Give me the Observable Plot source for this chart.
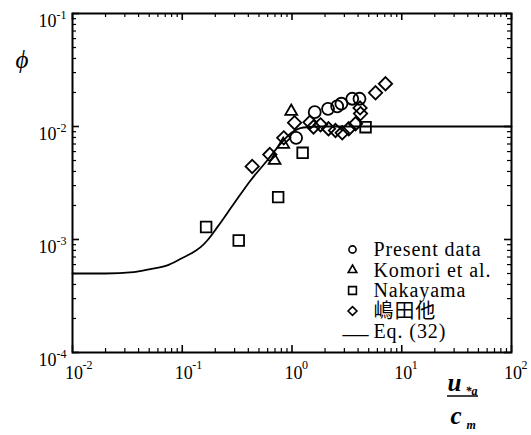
<!DOCTYPE html>
<html>
<head>
<meta charset="utf-8">
<script src="https://cdn.jsdelivr.net/npm/d3@7"></script>
<script src="https://cdn.jsdelivr.net/npm/@observablehq/plot@0.6"></script>
<style>
  html, body { margin: 0; padding: 0; background: #fff; }
  #chart svg { display: block; }
  #chart svg .leg text { letter-spacing: 0.9px; }
</style>
</head>
<body>
<div id="chart"></div>
<script>
// ---- data ----
const presentX = [1.09, 1.61, 2.13, 2.58, 2.82, 3.54, 4.12];
const presentY = [0.00794, 0.0134, 0.01435, 0.0151, 0.0159, 0.0176, 0.0176];

const komoriX = [0.694, 0.832, 0.984];
const komoriY = [0.0050, 0.00693, 0.0136];

const nakayamaX = [0.165, 0.327, 0.748, 1.25, 4.68];
const nakayamaY = [0.00129, 0.00098, 0.00237, 0.00585, 0.00986];

const shimadaX = [0.434, 0.628, 0.841, 1.055, 1.46, 1.57, 1.82, 2.15, 2.49, 2.87, 3.29, 3.79, 4.21, 4.17, 5.77, 7.11];
const shimadaY = [0.00443, 0.00565, 0.00794, 0.0108, 0.0109, 0.0099, 0.01035, 0.00955, 0.00922, 0.0088, 0.00955, 0.01057, 0.0130, 0.0146, 0.01987, 0.0239];

const eqX = [0.01, 0.02, 0.036, 0.05, 0.073, 0.1, 0.119, 0.147, 0.169, 0.208, 0.295, 0.419, 0.594, 0.785, 0.969, 1.27, 1.83, 10, 100];
const eqY = [0.0005, 0.0005, 0.000514, 0.000545, 0.00059, 0.000686, 0.000747, 0.000855, 0.00098, 0.00128, 0.00207, 0.00333, 0.0050, 0.00703, 0.00867, 0.0098, 0.0100, 0.0100, 0.0100];

const legendLabels = ["Present data", "Komori et al.", "Nakayama", "嶋田他", "Eq. (32)"];
const legendSymbols = ["circle", "triangle", "square", "diamond2", "line"];

// tick labels
const xTicks = [1e-2, 1e-1, 1e0, 1e1, 1e2];
const xTickExp = ["-2", "-1", "0", "1", "2"];
const yTicks = [1e-4, 1e-3, 1e-2, 1e-1];
const yTickExp = ["-4", "-3", "-2", "-1"];
const tickBase = "10";

// ---- build ----
const zip = (xs, ys) => xs.map((x, i) => ({x, y: ys[i]}));
const minor = (decades) => decades.slice(0, -1).flatMap(d => [2,3,4,5,6,7,8,9].map(k => d * k));
const xMinor = minor(xTicks);
const yMinor = minor(yTicks);

const W = 531, H = 435, mL = 72, mR = 20, mT = 13, mB = 83;
const pw = W - mL - mR, ph = H - mT - mB;
const serif = "'Liberation Serif', 'Times New Roman', 'Noto Sans CJK JP', serif";

const dotStyle = {stroke: "black", fill: "none", strokeWidth: 1.8};
const T = (extra) => ({fontFamily: serif, ...extra});

const marks = [
  Plot.frame({stroke: "black", strokeWidth: 2}),
  // minor & major ticks (inward) on all four sides
  Plot.tickX(xMinor, {x: d => d, insetTop: ph - 4, strokeWidth: 1.2}),
  Plot.tickX(xMinor, {x: d => d, insetBottom: ph - 4, strokeWidth: 1.2}),
  Plot.tickX(xTicks, {x: d => d, insetTop: ph - 7, strokeWidth: 1.6}),
  Plot.tickX(xTicks, {x: d => d, insetBottom: ph - 7, strokeWidth: 1.6}),
  Plot.tickY(yMinor, {y: d => d, insetRight: pw - 4, strokeWidth: 1.2}),
  Plot.tickY(yMinor, {y: d => d, insetLeft: pw - 4, strokeWidth: 1.2}),
  Plot.tickY(yTicks, {y: d => d, insetRight: pw - 7, strokeWidth: 1.6}),
  Plot.tickY(yTicks, {y: d => d, insetLeft: pw - 7, strokeWidth: 1.6}),
  // tick labels
  Plot.text(xTicks, T({x: d => d, frameAnchor: "bottom", text: () => tickBase, textAnchor: "middle", lineAnchor: "bottom", dx: 1.5, dy: 26, fontSize: 18})),
  Plot.text(xTicks, T({x: d => d, frameAnchor: "bottom", text: (d, i) => xTickExp[i], textAnchor: "start", lineAnchor: "bottom", dx: 10, dy: 16, fontSize: 12})),
  Plot.text(yTicks, T({y: d => d, frameAnchor: "left", text: () => tickBase, textAnchor: "end", lineAnchor: "bottom", dx: -16, dy: 13, fontSize: 18})),
  Plot.text(yTicks, T({y: d => d, frameAnchor: "left", text: (d, i) => yTickExp[i], textAnchor: "start", lineAnchor: "bottom", dx: -16, dy: 5, fontSize: 12})),
  // axis titles
  Plot.text(["ϕ"], T({frameAnchor: "top-left", text: d => d, textAnchor: "middle", lineAnchor: "bottom", dx: 21.5 - mL, dy: 67 - mT, fontSize: 25, fontStyle: "italic"})),
  Plot.text(["u"], T({frameAnchor: "bottom-right", text: d => d, textAnchor: "start", lineAnchor: "bottom", dx: 447 - (W - mR), dy: 390 - (H - mB), fontSize: 25, fontStyle: "italic", fontWeight: "bold"})),
  Plot.text(["*a"], T({frameAnchor: "bottom-right", text: d => d, textAnchor: "start", lineAnchor: "bottom", dx: 465 - (W - mR), dy: 394 - (H - mB), fontSize: 12, fontStyle: "italic", fontWeight: "bold"})),
  Plot.text(["c"], T({frameAnchor: "bottom-right", text: d => d, textAnchor: "start", lineAnchor: "bottom", dx: 450 - (W - mR), dy: 423 - (H - mB), fontSize: 25, fontStyle: "italic", fontWeight: "bold"})),
  Plot.text(["m"], T({frameAnchor: "bottom-right", text: d => d, textAnchor: "start", lineAnchor: "bottom", dx: 466 - (W - mR), dy: 428 - (H - mB), fontSize: 12, fontStyle: "italic", fontWeight: "bold"})),
  // Eq. (32) curve
  Plot.line(zip(eqX, eqY), {x: "x", y: "y", curve: "monotone-x", stroke: "black", strokeWidth: 1.8}),
  // data
  Plot.dot(zip(presentX, presentY), {x: "x", y: "y", symbol: "circle", r: 6, ...dotStyle}),
  Plot.dot(zip(komoriX, komoriY), {x: "x", y: "y", symbol: "triangle", r: 4.4, ...dotStyle}),
  Plot.dot(zip(nakayamaX, nakayamaY), {x: "x", y: "y", symbol: "square", r: 6, ...dotStyle}),
  Plot.dot(zip(shimadaX, shimadaY), {x: "x", y: "y", symbol: "diamond2", r: 6, ...dotStyle}),
];

// legend
const legR = {circle: 3.6, triangle: 3.2, square: 4.4, diamond2: 4};
legendLabels.forEach((lab, i) => {
  const cy = 249 + 20.5 * i;
  const sym = legendSymbols[i];
  if (sym === "line") {
    marks.push(Plot.text(["—"], T({frameAnchor: "top-left", text: d => d, textAnchor: "middle", lineAnchor: "middle", dx: 355 - mL, dy: cy + 2 - mT, fontSize: 26})));
  } else {
    marks.push(Plot.dot([sym], {frameAnchor: "top-left", symbol: d => d, r: legR[sym], dx: 352 - mL, dy: cy - mT, stroke: "black", fill: "none", strokeWidth: 1.6}));
  }
  marks.push(Plot.text([lab], T({className: "leg", frameAnchor: "top-left", text: d => d, textAnchor: "start", lineAnchor: "bottom", dx: 373 - mL, dy: cy + 6.5 - mT, fontSize: 20})));
});

const chart = Plot.plot({
  width: W, height: H,
  marginLeft: mL, marginRight: mR, marginTop: mT, marginBottom: mB,
  x: {type: "log", domain: [1e-2, 1e2], axis: null},
  y: {type: "log", domain: [1e-4, 1e-1], axis: null},
  style: {background: "white", color: "black"},
  marks
});

// fraction bar of the x-axis title
d3.select(chart).append("line")
  .attr("x1", 447).attr("x2", 478).attr("y1", 396).attr("y2", 396)
  .attr("stroke", "black").attr("stroke-width", 1.5);

document.getElementById("chart").appendChild(chart);
</script>
</body>
</html>
